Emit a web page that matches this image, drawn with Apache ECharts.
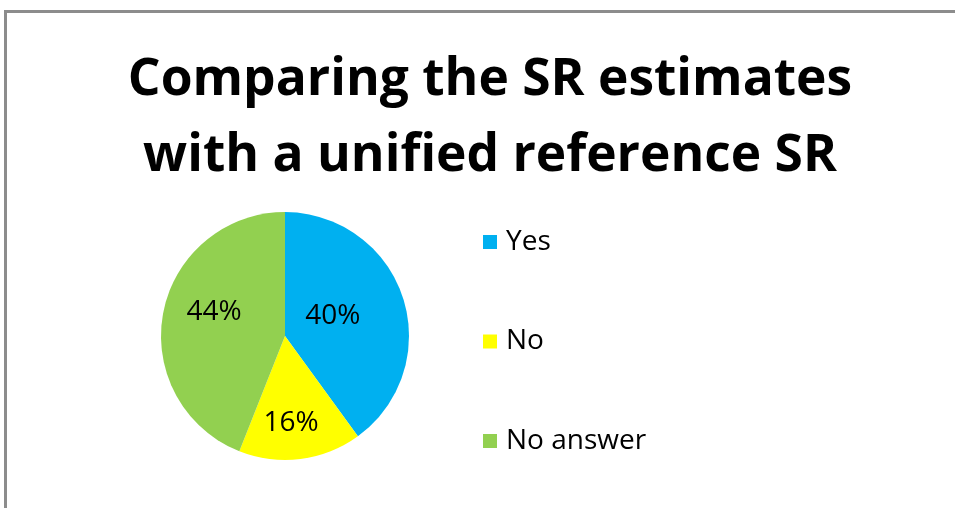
<!DOCTYPE html>
<html><head><meta charset="utf-8">
<script src="https://cdn.jsdelivr.net/npm/echarts@6/dist/echarts.min.js"></script>
<style>
html,body{margin:0;padding:0;background:#fff;width:955px;height:508px;overflow:hidden;}
#frame{position:absolute;left:4px;top:10px;width:1000px;height:600px;border-top:3px solid #8c8c8c;border-left:3px solid #8c8c8c;}
#chart{position:absolute;left:0;top:0;width:955px;height:508px;}
</style></head>
<body>
<div id="frame"></div>
<div id="chart"></div>
<script>
const titleLines = ['Comparing the SR estimates', 'with a unified reference SR'];
const categories = ['Yes', 'No', 'No answer'];
const values = [40, 16, 44];
const colors = ['#00B0F0', '#FFFF00', '#92D050'];
const labelOffsets = [[-14, 0], [-2, 23], [-7, -12]];

const chart = echarts.init(document.getElementById('chart'), null, {renderer: 'canvas'});
const font = '"Open Sans", Lato, "Liberation Sans", sans-serif';
chart.setOption({
  backgroundColor: 'transparent',
  animation: false,
  title: {
    text: titleLines.join('\n'),
    left: 485,
    textAlign: 'center',
    top: 37,
    textStyle: {fontFamily: font, fontWeight: 'bold', fontSize: 51.5, lineHeight: 76, color: '#000'}
  },
  legend: {
    orient: 'vertical',
    left: 478,
    top: 222,
    itemWidth: 14,
    itemHeight: 14,
    itemGap: 69.5,
    icon: 'rect',
    data: categories,
    textStyle: {fontFamily: font, fontSize: 28, lineHeight: 30, color: '#000', padding: [0, 0, 0, 4]}
  },
  series: [{
    type: 'pie',
    center: [285, 336],
    radius: 124,
    startAngle: 90,
    clockwise: true,
    data: categories.map((c, i) => ({
      name: c, value: values[i],
      itemStyle: {color: colors[i]},
      label: {offset: labelOffsets[i]}
    })),
    label: {
      show: true,
      position: 'inside',
      formatter: '{c}%',
      fontFamily: font,
      fontSize: 28,
      color: '#000'
    },
    labelLine: {show: false},
    itemStyle: {borderWidth: 0},
    emphasis: {disabled: true}
  }]
});
</script>
</body></html>
